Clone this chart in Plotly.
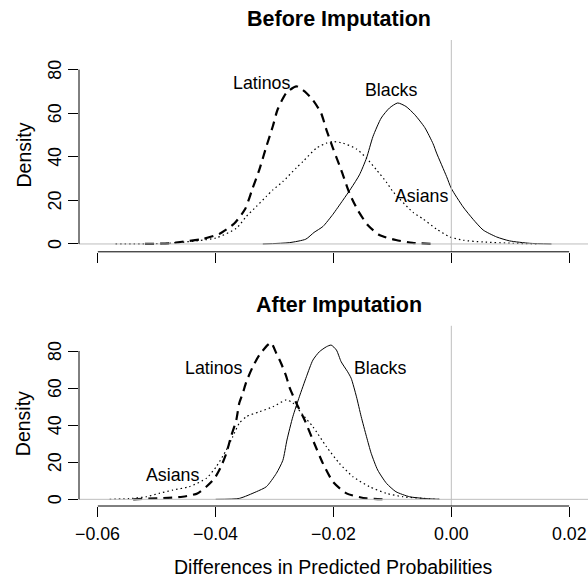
import plotly.graph_objects as go

# ---------------- data ----------------
top_latinos_x = [-0.0520, -0.0478, -0.0457, -0.0423, -0.0394, -0.0368, -0.0350, -0.0338, -0.0326, -0.0314,
                 -0.0303, -0.0295, -0.0280, -0.0263, -0.0249, -0.0235, -0.0221, -0.0212, -0.0201, -0.0187,
                 -0.0173, -0.0159, -0.0142, -0.0122, -0.0094, -0.0066, -0.0032]
top_latinos_y = [0, 0.3, 1.0, 2.2, 4.6, 9.5, 16, 25, 34, 44.7, 54, 61.6, 69.3, 72.3, 70, 66, 60, 52.4, 44, 34,
                 23.3, 15.6, 8.7, 4.1, 1.8, 0.5, 0]

top_blacks_x = [-0.0320, -0.0275, -0.0247, -0.0233, -0.0218, -0.0201, -0.0184, -0.0170, -0.0156, -0.0144,
                -0.0133, -0.0119, -0.0105, -0.0091, -0.0077, -0.0062, -0.0045, -0.0031, -0.0025, -0.0008,
                0.0, 0.0020, 0.0037, 0.0054, 0.0077, 0.0099, 0.0133, 0.0170]
top_blacks_y = [0, 0.6, 2.2, 5.3, 8, 13.6, 20.1, 25.6, 31.7, 39.4, 49.3, 57.8, 62.4, 64.7, 63.1, 59.3, 53.4,
                46, 41.7, 30.9, 25.5, 17, 11.3, 6.4, 3.2, 1.4, 0.3, 0]

top_asians_x = [-0.0570, -0.0479, -0.0399, -0.0365, -0.0348, -0.0331, -0.0314, -0.0303, -0.0286, -0.0263,
                -0.0252, -0.0229, -0.0212, -0.0201, -0.0184, -0.0161, -0.0144, -0.0127, -0.0110, -0.0099,
                -0.0065, -0.0048, -0.0025, -0.0003, 0.0020, 0.0054, 0.0104, 0.0150]
top_asians_y = [0, 0.3, 2.8, 7.2, 12.6, 17.2, 21.8, 24.8, 28.6, 35, 37.8, 44, 46.3, 47, 46.3, 43.6, 39.4,
                34, 28.3, 24, 14.5, 11.5, 6.8, 3.3, 1.7, 0.9, 0.3, 0]

bot_latinos_x = [-0.0540, -0.0456, -0.0431, -0.0416, -0.0402, -0.0391, -0.0382, -0.0374, -0.0365, -0.0360,
                 -0.0354, -0.0348, -0.0337, -0.0326, -0.0312, -0.0306, -0.0297, -0.0289, -0.0280, -0.0275,
                 -0.0263, -0.0249, -0.0235, -0.0218, -0.0201, -0.0178, -0.0144, -0.0110]
bot_latinos_y = [0, 1.4, 3.2, 6.8, 11.3, 17.6, 24.8, 33.8, 42.8, 51.8, 57.2, 63.4, 71.5, 77.8, 83.2, 84.5,
                 78.7, 73.4, 66.1, 60.7, 51.8, 42.8, 32, 19.4, 9.5, 3.2, 0.5, 0]

bot_blacks_x = [-0.0400, -0.0360, -0.0331, -0.0314, -0.0297, -0.0286, -0.0279, -0.0269, -0.0258, -0.0246,
                -0.0235, -0.0224, -0.0212, -0.0204, -0.0195, -0.0187, -0.0176, -0.0170, -0.0161, -0.0153,
                -0.0144, -0.0136, -0.0125, -0.0110, -0.0094, -0.0071, -0.0048, -0.0020]
bot_blacks_y = [0, 0.5, 4.1, 6.8, 14, 21, 32, 44.6, 55.3, 66.1, 75.1, 79.6, 82.3, 83.2, 80.5, 74.2, 68.8,
                65.3, 55.3, 44.6, 33.8, 24.8, 15.8, 8.6, 4.1, 1.4, 0.5, 0]

bot_asians_x = [-0.0580, -0.0542, -0.0518, -0.0496, -0.0473, -0.0445, -0.0416, -0.0399, -0.0382, -0.0371,
                -0.0360, -0.0348, -0.0326, -0.0303, -0.0280, -0.0269, -0.0252, -0.0235, -0.0212, -0.0190,
                -0.0167, -0.0139, -0.0110, -0.0082, -0.0048, -0.0020]
bot_asians_y = [0, 0.5, 1.4, 3.2, 5, 6.8, 11.3, 17.6, 26.6, 33.8, 41, 44.6, 47.2, 49.9, 53.6, 52, 45.5,
                39.2, 28.4, 19.4, 12.2, 6.8, 3.2, 1.4, 0.5, 0]

x_ticks = [-0.06, -0.04, -0.02, 0.00, 0.02]
x_tick_labels = ["\u22120.06", "\u22120.04", "\u22120.02", "0.00", "0.02"]
y_ticks = [0, 20, 40, 60, 80]
panel_titles = ["Before Imputation", "After Imputation"]
x_title = "Differences in Predicted Probabilities"
y_title = "Density"

# curve labels: (text, x, y) per panel
top_labels = [("Latinos", -0.03228, 73.9), ("Blacks", -0.0102, 70.8), ("Asians", -0.0051, 21.9)]
bot_labels = [("Latinos", -0.04036, 70.7), ("Blacks", -0.01218, 70.7), ("Asians", -0.0473, 13.1)]

# ---------------- figure ----------------
FONT = "Liberation Sans, Arial, Helvetica, sans-serif"
W, H = 588, 578
ML, MR, MT, MB = 79, 0, 40, 72
plot_h = H - MT - MB
plot_w = W - ML - MR


def px_x(p):  # page pixel -> paper x
    return (p - ML) / plot_w


def px_y(p):  # page pixel -> paper y
    return (H - MB - p) / plot_h


top_dom = [px_y(251.8), 1.0]
bot_dom = [0.0, px_y(325.8)]
XR = [-0.0632, 0.0232]
YR = [-3.6, 93.6]

fig = go.Figure()

solid = dict(color="black", width=1)
dashed = dict(color="black", width=2.2, dash="9px,6px")
dotted = dict(color="black", width=1.2, dash="1.5px,3px")

for xa, ya, lat, bla, asi in [
    ("x", "y", (top_latinos_x, top_latinos_y), (top_blacks_x, top_blacks_y), (top_asians_x, top_asians_y)),
    ("x2", "y2", (bot_latinos_x, bot_latinos_y), (bot_blacks_x, bot_blacks_y), (bot_asians_x, bot_asians_y)),
]:
    fig.add_trace(go.Scatter(x=lat[0], y=lat[1], mode="lines", line=dict(shape="spline", smoothing=0.6, **dashed),
                             xaxis=xa, yaxis=ya, hoverinfo="skip", showlegend=False))
    fig.add_trace(go.Scatter(x=bla[0], y=bla[1], mode="lines", line=dict(shape="spline", smoothing=0.6, **solid),
                             xaxis=xa, yaxis=ya, hoverinfo="skip", showlegend=False))
    fig.add_trace(go.Scatter(x=asi[0], y=asi[1], mode="lines", line=dict(shape="spline", smoothing=0.6, **dotted),
                             xaxis=xa, yaxis=ya, hoverinfo="skip", showlegend=False))

axis_common = dict(showgrid=False, zeroline=False, showline=False, ticks="outside", ticklen=10,
                   tickwidth=1, tickcolor="black", showticklabels=False, fixedrange=True)

fig.update_layout(
    width=W, height=H,
    margin=dict(l=ML, r=MR, t=MT, b=MB, pad=0),
    paper_bgcolor="white", plot_bgcolor="white",
    font=dict(family=FONT, color="black", size=17.8),
    hovermode=False,
    xaxis=dict(domain=[0, 1], range=XR, anchor="y", tickvals=x_ticks, **axis_common),
    yaxis=dict(domain=top_dom, range=YR, anchor="x", tickvals=y_ticks, **axis_common),
    xaxis2=dict(domain=[0, 1], range=XR, anchor="y2", tickvals=x_ticks, **axis_common),
    yaxis2=dict(domain=bot_dom, range=YR, anchor="x2", tickvals=y_ticks, **axis_common),
)

shapes = []
for xa, ya in [("x", "y"), ("x2", "y2")]:
    # grey reference lines (drawn on top like R abline)
    shapes.append(dict(type="line", xref=f"{xa} domain", x0=0, x1=1, yref=ya, y0=0, y1=0,
                       line=dict(color="#bebebe", width=1), layer="above"))
    shapes.append(dict(type="line", xref=xa, x0=0, x1=0, yref=f"{ya} domain", y0=0, y1=1,
                       line=dict(color="#bebebe", width=1), layer="above"))
    # R-style axis lines spanning only the tick range
    shapes.append(dict(type="line", xref=xa, x0=x_ticks[0], x1=x_ticks[-1], yref=f"{ya} domain", y0=0, y1=0,
                       line=dict(color="black", width=1), layer="above"))
    shapes.append(dict(type="line", xref=f"{xa} domain", x0=0, x1=0, yref=ya, y0=y_ticks[0], y1=y_ticks[-1],
                       line=dict(color="black", width=1), layer="above"))
fig.update_layout(shapes=shapes)

ann = []
TICK_FS = 17.8
# y tick labels (rotated, R style)
for ya in ["y", "y2"]:
    for v in y_ticks:
        ann.append(dict(text=str(v), xref="paper", x=px_x(55), yref=ya, y=v, textangle=-90,
                        showarrow=False, xanchor="center", yanchor="middle", font=dict(size=TICK_FS)))
# x tick labels (bottom panel)
for v, t in zip(x_ticks, x_tick_labels):
    ann.append(dict(text=t, xref="x2", x=v, yref="paper", y=px_y(534), showarrow=False,
                    xanchor="center", yanchor="middle", font=dict(size=TICK_FS)))
# axis titles
ann.append(dict(text=x_title, xref="paper", x=px_x(333.5), yref="paper", y=px_y(566.5), showarrow=False,
                xanchor="center", yanchor="middle", font=dict(size=19.5)))
ann.append(dict(text=y_title, xref="paper", x=px_x(23), yref="paper", y=px_y(155.5), textangle=-90,
                showarrow=False, xanchor="center", yanchor="middle", font=dict(size=19.5)))
ann.append(dict(text=y_title, xref="paper", x=px_x(23), yref="paper", y=px_y(424.2), textangle=-90,
                showarrow=False, xanchor="center", yanchor="middle", font=dict(size=19.5)))
# panel titles
ann.append(dict(text="<b>" + panel_titles[0] + "</b>", xref="paper", x=px_x(339), yref="paper", y=px_y(19.5),
                showarrow=False, xanchor="center", yanchor="middle", font=dict(size=21.5)))
ann.append(dict(text="<b>" + panel_titles[1] + "</b>", xref="paper", x=px_x(339), yref="paper", y=px_y(305),
                showarrow=False, xanchor="center", yanchor="middle", font=dict(size=21.5)))
# curve labels
for (t, x, y) in top_labels:
    ann.append(dict(text=t, xref="x", x=x, yref="y", y=y, showarrow=False, xanchor="center",
                    yanchor="middle", font=dict(size=17.8)))
for (t, x, y) in bot_labels:
    ann.append(dict(text=t, xref="x2", x=x, yref="y2", y=y, showarrow=False, xanchor="center",
                    yanchor="middle", font=dict(size=17.8)))
fig.update_layout(annotations=ann)

# remove the default page margin so the 588x578 figure fills the window exactly
fig.write_html("out.html",
               config={"displayModeBar": False, "staticPlot": True},
               post_script="document.body.style.margin='0';document.body.style.overflow='hidden';")
